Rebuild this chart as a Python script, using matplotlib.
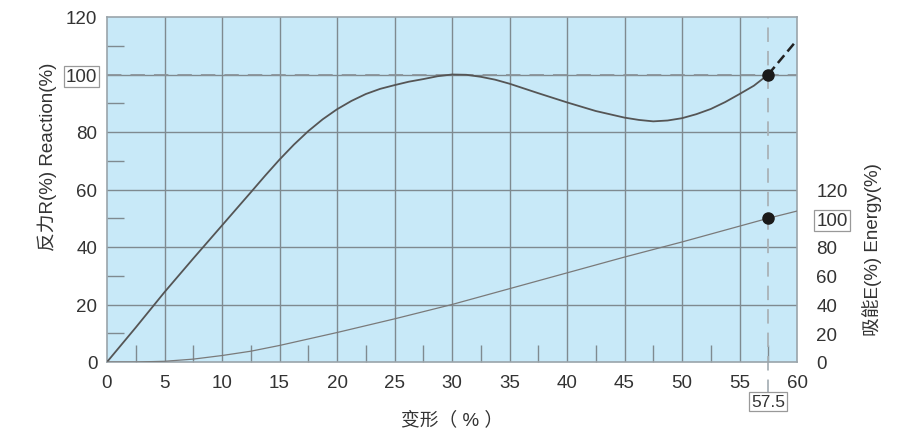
import matplotlib
matplotlib.use("Agg")
import matplotlib.pyplot as plt
import matplotlib.transforms as mtransforms

plt.rcParams['font.family'] = ['Liberation Sans', 'Noto Sans CJK SC', 'DejaVu Sans']

# deformation (%) and reaction (%)
deform = [0, 2.5, 5, 7.5, 10, 12.5, 13.75, 15, 16.25, 17.5, 18.75, 20, 21.25, 22.5, 23.75, 25,
          26.25, 27.5, 28.75, 30, 31.25, 32.5, 33.75, 35, 37.5, 40, 42.5, 45,
          46.25, 47.5, 48.75, 50, 51.25, 52.5, 53.75, 55, 56.25, 57.5]
reaction = [0, 12, 24.3, 36, 47.5, 59, 64.8, 70.4, 75.6, 80.3, 84.4, 87.9, 90.8, 93.2, 95, 96.3,
            97.5, 98.4, 99.4, 100, 99.9, 99.2, 98.2, 96.8, 93.5, 90.3, 87.3, 85,
            84.2, 83.7, 84, 84.8, 86.2, 88, 90.4, 93.2, 96.1, 100]
# dashed extension past rated deflection
ext_deform = [57.5, 60]
ext_reaction = [100, 112]
# energy absorption (%) on the right scale
energy_deform = [0, 2.5, 5, 7.5, 10, 12.5, 15, 17.5, 20, 25, 30, 35, 40, 45, 50, 55, 57.5, 60]
energy = [0, 0, 0.5, 2, 4.5, 7.5, 11.5, 16, 20.5, 30, 40, 51, 62, 73, 83.5, 94.5, 100, 105]

rated_x = 57.5
x_ticks = list(range(0, 65, 5))
r_ticks = list(range(0, 140, 20))
e_ticks = list(range(0, 140, 20))

bg = '#c8e9f8'
grid_c = '#7f8a90'
text_c = '#333333'
fs = 13.5

fig = plt.figure(figsize=(9.18, 4.31), dpi=100)
ax = fig.add_axes([107 / 918, 1 - 363 / 431, 690 / 918, 345 / 431])
ax.set_facecolor(bg)
ax.set_xlim(0, 60)
ax.set_ylim(0, 120)

for x in x_ticks[1:-1]:
    ax.axvline(x, color=grid_c, lw=1.0, zorder=1)
for y in r_ticks[1:-1]:
    ax.axhline(y, color=grid_c, lw=1.0, zorder=1)

for s in ax.spines.values():
    s.set_color('#9aa4aa')
    s.set_linewidth(1.2)

ax.set_xticks(x_ticks, [str(v) for v in x_ticks])
ax.set_yticks(r_ticks, [str(v) for v in r_ticks])
ax.set_xticks([v + 2.5 for v in x_ticks[:-1]], minor=True)
ax.set_yticks([v + 10 for v in r_ticks[:-1]], minor=True)
ax.tick_params(which='major', length=0, labelsize=fs, labelcolor=text_c)
ax.tick_params(axis='x', which='major', pad=9)
ax.tick_params(axis='y', which='major', pad=7)
ax.tick_params(which='minor', direction='in', length=12, width=1.0, color=grid_c)

ax.axhline(100, color='#8a9399', lw=1.3, ls=(0, (8, 5)), zorder=2)
ax.axvline(rated_x, ymin=-0.093, ymax=1, color='#a9b2b7', lw=1.3,
           ls=(0, (8, 5)), zorder=2, clip_on=False)

ax.plot(deform, reaction, color='#555555', lw=1.3, zorder=3)
ax.plot(ext_deform, ext_reaction, color='#222222', lw=1.8, ls=(0, (4, 2)), zorder=3)
ax.plot([rated_x], [100], 'o', color='#1a1a1a', ms=8, zorder=5)

box = dict(facecolor='white', edgecolor='#999999', pad=1.5, linewidth=0.9)
ax.get_yticklabels()[5].set_bbox(box)

trans = mtransforms.blended_transform_factory(ax.transData, ax.transAxes)
ax.text(rated_x, -0.115, '57.5', transform=trans, ha='center', va='center',
        fontsize=fs - 1, color=text_c, bbox=box)

ax.set_xlabel('变形（ % ）', fontsize=fs, color=text_c)
ax.xaxis.set_label_coords(0.5, -0.139)
ax.set_ylabel('反力R(%) Reaction(%)', fontsize=fs, color=text_c)
ax.yaxis.set_label_coords(-0.0725, 0.597)

ax2 = ax.twinx()
ax2.set_ylim(0, 240)
for s in ax2.spines.values():
    s.set_visible(False)
ax2.set_yticks(e_ticks, [str(v) for v in e_ticks])
ax2.set_yticks([20, 60, 100], minor=True)
ax2.tick_params(which='major', length=0, labelsize=fs, labelcolor=text_c, pad=14)
ax2.tick_params(which='minor', direction='in', length=12, width=1.0, color=grid_c)
ax2.get_yticklabels()[5].set_bbox(box)

ax2.plot(energy_deform, energy, color='#7a7a7a', lw=0.9, zorder=3)
ax2.plot([rated_x], [100], 'o', color='#1a1a1a', ms=8, zorder=5, clip_on=False)

ax2.set_ylabel('吸能E(%) Energy(%)', fontsize=fs, color=text_c)
ax2.yaxis.set_label_coords(1.094, 0.3275)

fig.savefig('out.png', dpi=100, facecolor='white')
